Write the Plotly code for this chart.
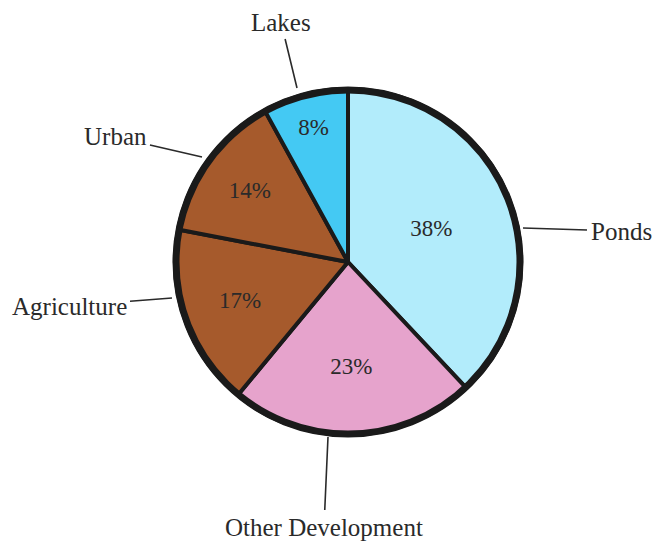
import plotly.graph_objects as go

# ---- data ----
categories = ["Ponds", "Other Development", "Agriculture", "Urban", "Lakes"]
percents = [38, 23, 17, 14, 8]
colors = ["#b2ecfb", "#e6a3cc", "#a65a2c", "#a65a2c", "#44c9f3"]

W, H = 656, 542
CX, CY, R = 348, 262, 173  # pie centre / radius in pixels


def px(x):
    return x / W


def py(y):
    return 1 - y / H


fig = go.Figure(
    go.Pie(
        labels=categories,
        values=percents,
        sort=False,
        direction="clockwise",
        rotation=0,
        marker=dict(colors=colors, line=dict(color="#1a1a1a", width=4)),
        text=[f"{v}%" for v in percents],
        textinfo="text",
        textposition="inside",
        insidetextorientation="horizontal",
        textfont=dict(family="Liberation Serif", size=23, color="#2a2a2a"),
        domain=dict(x=[px(CX - R), px(CX + R)], y=[py(CY + R), py(CY - R)]),
        showlegend=False,
        hoverinfo="label+percent",
    )
)

# thick outer rim
fig.add_shape(
    type="circle", xref="paper", yref="paper",
    x0=px(CX - R + 1), x1=px(CX + R - 1), y0=py(CY + R - 1), y1=py(CY - R + 1),
    line=dict(color="#1a1a1a", width=7), fillcolor="rgba(0,0,0,0)",
)

# outside labels with leader lines: (tip x, tip y, text x, text y)
label_pos = {
    "Lakes": (297, 88, 281, 22),
    "Urban": (202, 157, 115, 137),
    "Agriculture": (172, 298, 69, 306),
    "Ponds": (523, 228, 621, 231),
    "Other Development": (328, 437, 324, 527),
}
for name in categories:
    tx, ty, lx, ly = label_pos[name]
    fig.add_annotation(
        x=px(tx), y=py(ty), xref="paper", yref="paper",
        ax=lx - tx, ay=ly - ty, axref="pixel", ayref="pixel",
        text=name, showarrow=True, arrowhead=0, arrowwidth=1.6,
        arrowcolor="#2a2a2a", standoff=0, startstandoff=2,
        font=dict(family="Liberation Serif", size=25, color="#2a2a2a"),
    )

fig.update_layout(
    width=W, height=H,
    margin=dict(l=0, r=0, t=0, b=0),
    paper_bgcolor="white", plot_bgcolor="white",
)

fig.write_html(
    "out.html",
    config={"displayModeBar": False},
    post_script="document.body.style.margin='0';document.body.style.overflow='hidden';",
)
